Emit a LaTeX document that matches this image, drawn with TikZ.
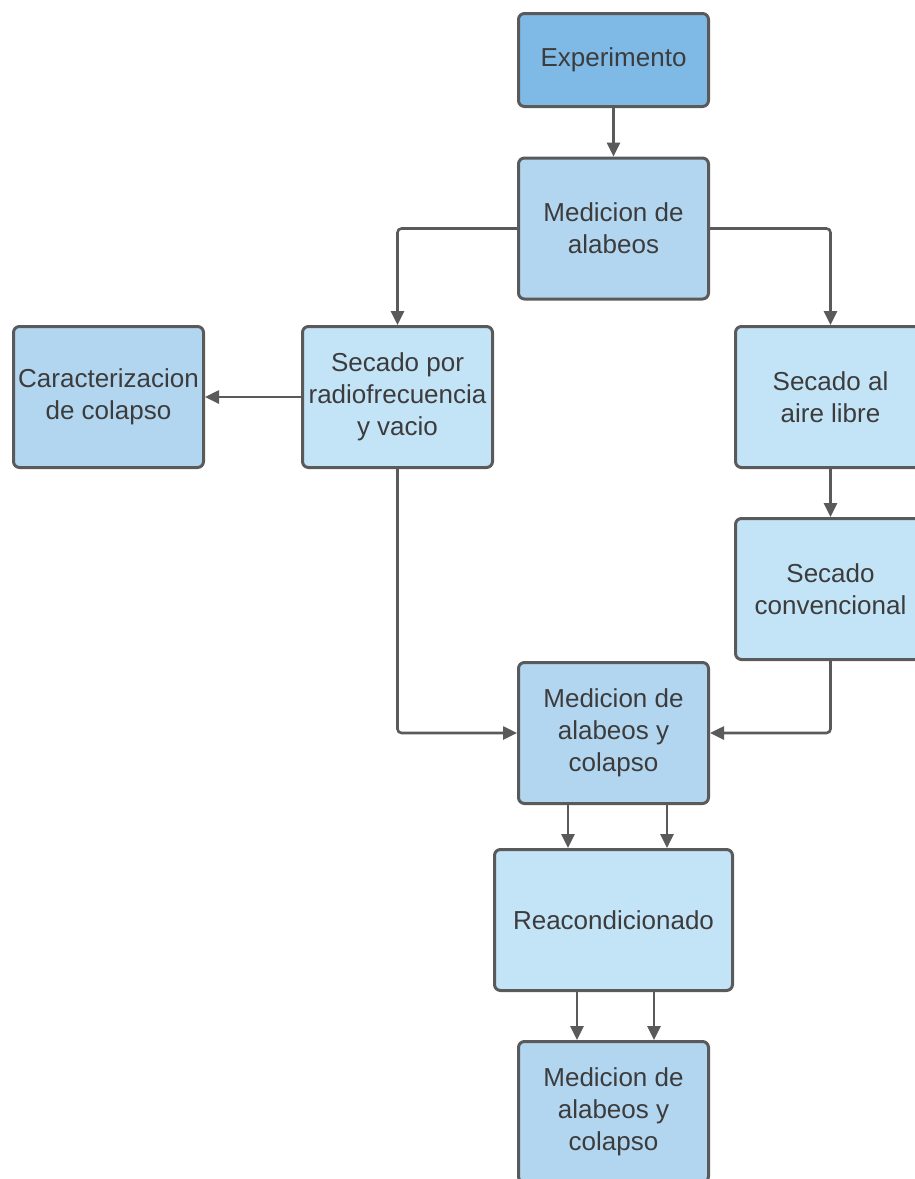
\documentclass[tikz,border=0pt]{standalone}
\usepackage{fontspec}
\setmainfont{Liberation Sans}
\usepackage{tikz}
\usetikzlibrary{arrows.meta,positioning}
\usepackage{xcolor}

\definecolor{boxline}{HTML}{5A5A5A}
\definecolor{boxtext}{HTML}{3C3C3C}
\definecolor{darkfill}{HTML}{7FB9E5}
\definecolor{midfill}{HTML}{B3D6F0}
\definecolor{lightfill}{HTML}{C3E3F7}

\tikzset{
  stage/.style={draw=boxline, line width=3pt, rounded corners=6pt,
    minimum width=190pt, minimum height=141pt, inner sep=2pt,
    align=center, text=boxtext, font=\fontsize{26}{32}\selectfont},
  conn/.style={draw=boxline, line width=2.6pt, rounded corners=4pt,
    -{Triangle[length=14pt,width=13pt]}}
}

\begin{document}
\begin{tikzpicture}[x=1pt, y=-1pt]
    \useasboundingbox (0,0) rectangle (915,1179);
    \clip (0,0) rectangle (915,1179);

    % Start and first measurement
    \node[stage, fill=darkfill, minimum height=93pt] (exp) at (613.5, 60) {Experimento};
    \node[stage, fill=midfill] (med1) at (613.5, 228.5) {Medicion de\\alabeos};

    % Drying branches
    \node[stage, fill=lightfill] (rf) at (397.5, 397) {Secado por\\radiofrecuencia\\y vacio};
    \node[stage, fill=midfill] (car) at (108.5, 397) {Caracterizacion\\de colapso};
    \node[stage, fill=lightfill] (aire) at (830.5, 397) {Secado al\\aire libre};
    \node[stage, fill=lightfill] (conv) at (830.5, 589) {Secado\\convencional};

    % Measurements after drying
    \node[stage, fill=midfill] (med2) at (613.5, 733) {Medicion de\\alabeos y\\colapso};
    \node[stage, fill=lightfill, minimum width=238pt] (reac) at (613.5, 920) {Reacondicionado};
    \node[stage, fill=midfill] (med3) at (613.5, 1112) {Medicion de\\alabeos y\\colapso};

    % Connectors
    \draw[conn] (exp) -- (med1);
    \draw[conn] (med1.west) -| (rf.north);
    \draw[conn] (med1.east) -| (aire.north);
    \draw[conn] (rf) -- (car);
    \draw[conn] (aire) -- (conv);
    \draw[conn] (rf.south) |- (med2.west);
    \draw[conn] (conv.south) |- (med2.east);

    \draw[conn] (med2.south -| 568,0) -- (reac.north -| 568,0);
    \draw[conn] (med2.south -| 667,0) -- (reac.north -| 667,0);
    \draw[conn] (reac.south -| 577,0) -- (med3.north -| 577,0);
    \draw[conn] (reac.south -| 654,0) -- (med3.north -| 654,0);
\end{tikzpicture}
\end{document}
